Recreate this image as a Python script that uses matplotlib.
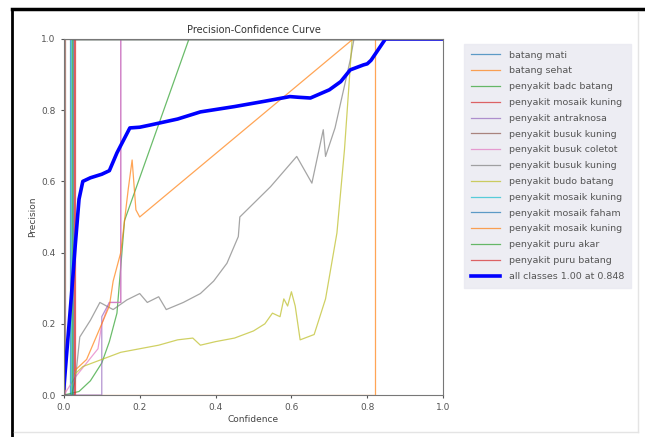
import numpy as np
import matplotlib
matplotlib.use('Agg')
import matplotlib.pyplot as plt
from matplotlib.lines import Line2D

# class names as shown in the legend
names = ['batang mati', 'batang sehat', 'penyakit badc batang', 'penyakit mosaik kuning',
         'penyakit antraknosa', 'penyakit busuk kuning', 'penyakit busuk coletot',
         'penyakit busuk kuning', 'penyakit budo batang', 'penyakit mosaik kuning',
         'penyakit mosaik faham', 'penyakit mosaik kuning', 'penyakit puru akar',
         'penyakit puru batang']

# per-class precision curves as (confidence, precision) points
batang_mati_x = [0.0, 0.015, 0.015, 1.0]
batang_mati_y = [0.0, 0.0, 1.0, 1.0]
batang_sehat_x = [0.0, 0.82, 0.82, 1.0]
batang_sehat_y = [0.0, 0.0, 1.0, 1.0]
badc_x = [0.0, 0.04, 0.07, 0.1, 0.12, 0.14, 0.15, 0.16, 0.33, 1.0]
badc_y = [0.0, 0.01, 0.04, 0.09, 0.15, 0.23, 0.36, 0.49, 1.0, 1.0]
mosaik1_x = [0.0, 0.03, 0.03, 1.0]
mosaik1_y = [0.0, 0.0, 1.0, 1.0]
antrak_x = [0.0, 0.1, 0.1, 0.12, 0.15, 0.15, 1.0]
antrak_y = [0.0, 0.0, 0.22, 0.26, 0.26, 1.0, 1.0]
busuk1_x = [0.0, 0.002, 0.002, 1.0]
busuk1_y = [0.0, 0.0, 1.0, 1.0]
coletot_x = [0.0, 0.03, 0.06, 0.09, 0.1, 0.12, 0.15, 0.15, 1.0]
coletot_y = [0.0, 0.05, 0.09, 0.13, 0.2, 0.26, 0.26, 1.0, 1.0]
busuk2_x = [0.02, 0.03, 0.042, 0.07, 0.095, 0.13, 0.166, 0.2, 0.22, 0.25, 0.27, 0.315,
            0.36, 0.395, 0.43, 0.46, 0.464, 0.545, 0.614, 0.654, 0.684, 0.69, 0.715,
            0.755, 0.765, 1.0]
busuk2_y = [0.0, 0.04, 0.163, 0.21, 0.26, 0.24, 0.267, 0.285, 0.26, 0.276, 0.24, 0.26,
            0.285, 0.32, 0.37, 0.445, 0.5, 0.585, 0.67, 0.595, 0.745, 0.67, 0.75,
            0.94, 1.0, 1.0]
budo_x = [0.03, 0.05, 0.1, 0.15, 0.2, 0.25, 0.3, 0.34, 0.36, 0.4, 0.45, 0.5, 0.53,
          0.55, 0.57, 0.58, 0.59, 0.6, 0.61, 0.623, 0.66, 0.69, 0.72, 0.74, 0.755,
          0.76, 1.0]
budo_y = [0.06, 0.08, 0.1, 0.12, 0.13, 0.14, 0.155, 0.16, 0.14, 0.15, 0.16, 0.18,
          0.2, 0.23, 0.22, 0.27, 0.25, 0.29, 0.25, 0.155, 0.17, 0.27, 0.455, 0.69,
          0.92, 1.0, 1.0]
mosaik2_x = [0.0, 0.02, 0.02, 1.0]
mosaik2_y = [0.0, 0.0, 1.0, 1.0]
faham_x = [0.0, 0.025, 0.025, 1.0]
faham_y = [0.0, 0.0, 1.0, 1.0]
mosaik3_x = [0.03, 0.06, 0.1, 0.12, 0.13, 0.15, 0.17, 0.18, 0.19, 0.2, 0.763, 1.0]
mosaik3_y = [0.07, 0.1, 0.2, 0.25, 0.32, 0.4, 0.58, 0.66, 0.52, 0.5, 1.0, 1.0]
puru_akar_x = [0.0, 0.022, 0.022, 1.0]
puru_akar_y = [0.0, 0.0, 1.0, 1.0]
puru_batang_x = [0.0, 0.028, 0.028, 1.0]
puru_batang_y = [0.0, 0.0, 1.0, 1.0]

curves = [(batang_mati_x, batang_mati_y), (batang_sehat_x, batang_sehat_y),
          (badc_x, badc_y), (mosaik1_x, mosaik1_y), (antrak_x, antrak_y),
          (busuk1_x, busuk1_y), (coletot_x, coletot_y), (busuk2_x, busuk2_y),
          (budo_x, budo_y), (mosaik2_x, mosaik2_y), (faham_x, faham_y),
          (mosaik3_x, mosaik3_y), (puru_akar_x, puru_akar_y),
          (puru_batang_x, puru_batang_y)]

# all classes mean curve
all_x = [0.0, 0.01, 0.02, 0.03, 0.04, 0.05, 0.07, 0.1, 0.12, 0.14, 0.174, 0.2, 0.227,
         0.3, 0.36, 0.45, 0.53, 0.596, 0.62, 0.65, 0.7, 0.73, 0.755, 0.79, 0.8, 0.81,
         0.848, 1.0]
all_y = [0.02, 0.15, 0.28, 0.42, 0.55, 0.6, 0.61, 0.62, 0.63, 0.68, 0.75, 0.752, 0.758,
         0.775, 0.795, 0.81, 0.825, 0.838, 0.836, 0.834, 0.857, 0.88, 0.913, 0.927, 0.93,
         0.94, 1.0, 1.0]
all_label = 'all classes 1.00 at 0.848'

fig = plt.figure(figsize=(6.45, 4.37), dpi=100)
ax = fig.add_axes([0.099, 0.096, 0.588, 0.815])

colors = plt.rcParams['axes.prop_cycle'].by_key()['color']
for i, (cx, cy) in enumerate(curves):
    ax.plot(cx, cy, linewidth=0.9, color=colors[i % 10], alpha=0.7, label=names[i])
ax.plot(all_x, all_y, linewidth=2.6, color='blue', label=all_label)

ax.set_xlim(0, 1)
ax.set_ylim(0, 1)
ax.set_xticks(np.arange(0, 1.01, 0.2))
ax.set_yticks(np.arange(0, 1.01, 0.2))
ax.tick_params(labelsize=6.5, colors='#555555', length=2.5)
for s in ax.spines.values():
    s.set_color('#777777')
ax.set_xlabel('Confidence', fontsize=6.5, color='#444444', labelpad=2)
ax.set_ylabel('Precision', fontsize=6.5, color='#444444', labelpad=3)
ax.set_title('Precision-Confidence Curve', fontsize=7, color='#333333', pad=4)

leg = ax.legend(loc='upper left', bbox_to_anchor=(1.043, 1.0), fontsize=6.8,
                frameon=True, fancybox=False, labelspacing=0.72, handlelength=3.0,
                borderpad=0.75, handletextpad=1.0)
leg.get_frame().set_facecolor('#e9e9f1')
leg.get_frame().set_edgecolor('#e9e9f1')
for t in leg.get_texts():
    t.set_color('#555555')

# screenshot frame
fig.add_artist(Line2D([12 / 645, 1], [1 - 9 / 437, 1 - 9 / 437], color='black', lw=2.5))
fig.add_artist(Line2D([12 / 645, 12 / 645], [0, 1 - 9 / 437], color='black', lw=2.0))
fig.add_artist(Line2D([14 / 645, 638 / 645], [1 - 432 / 437, 1 - 432 / 437], color='#e4e4e4', lw=1))
fig.add_artist(Line2D([638 / 645, 638 / 645], [1 - 432 / 437, 1 - 12 / 437], color='#e4e4e4', lw=1))

fig.savefig('out.png', dpi=100)
